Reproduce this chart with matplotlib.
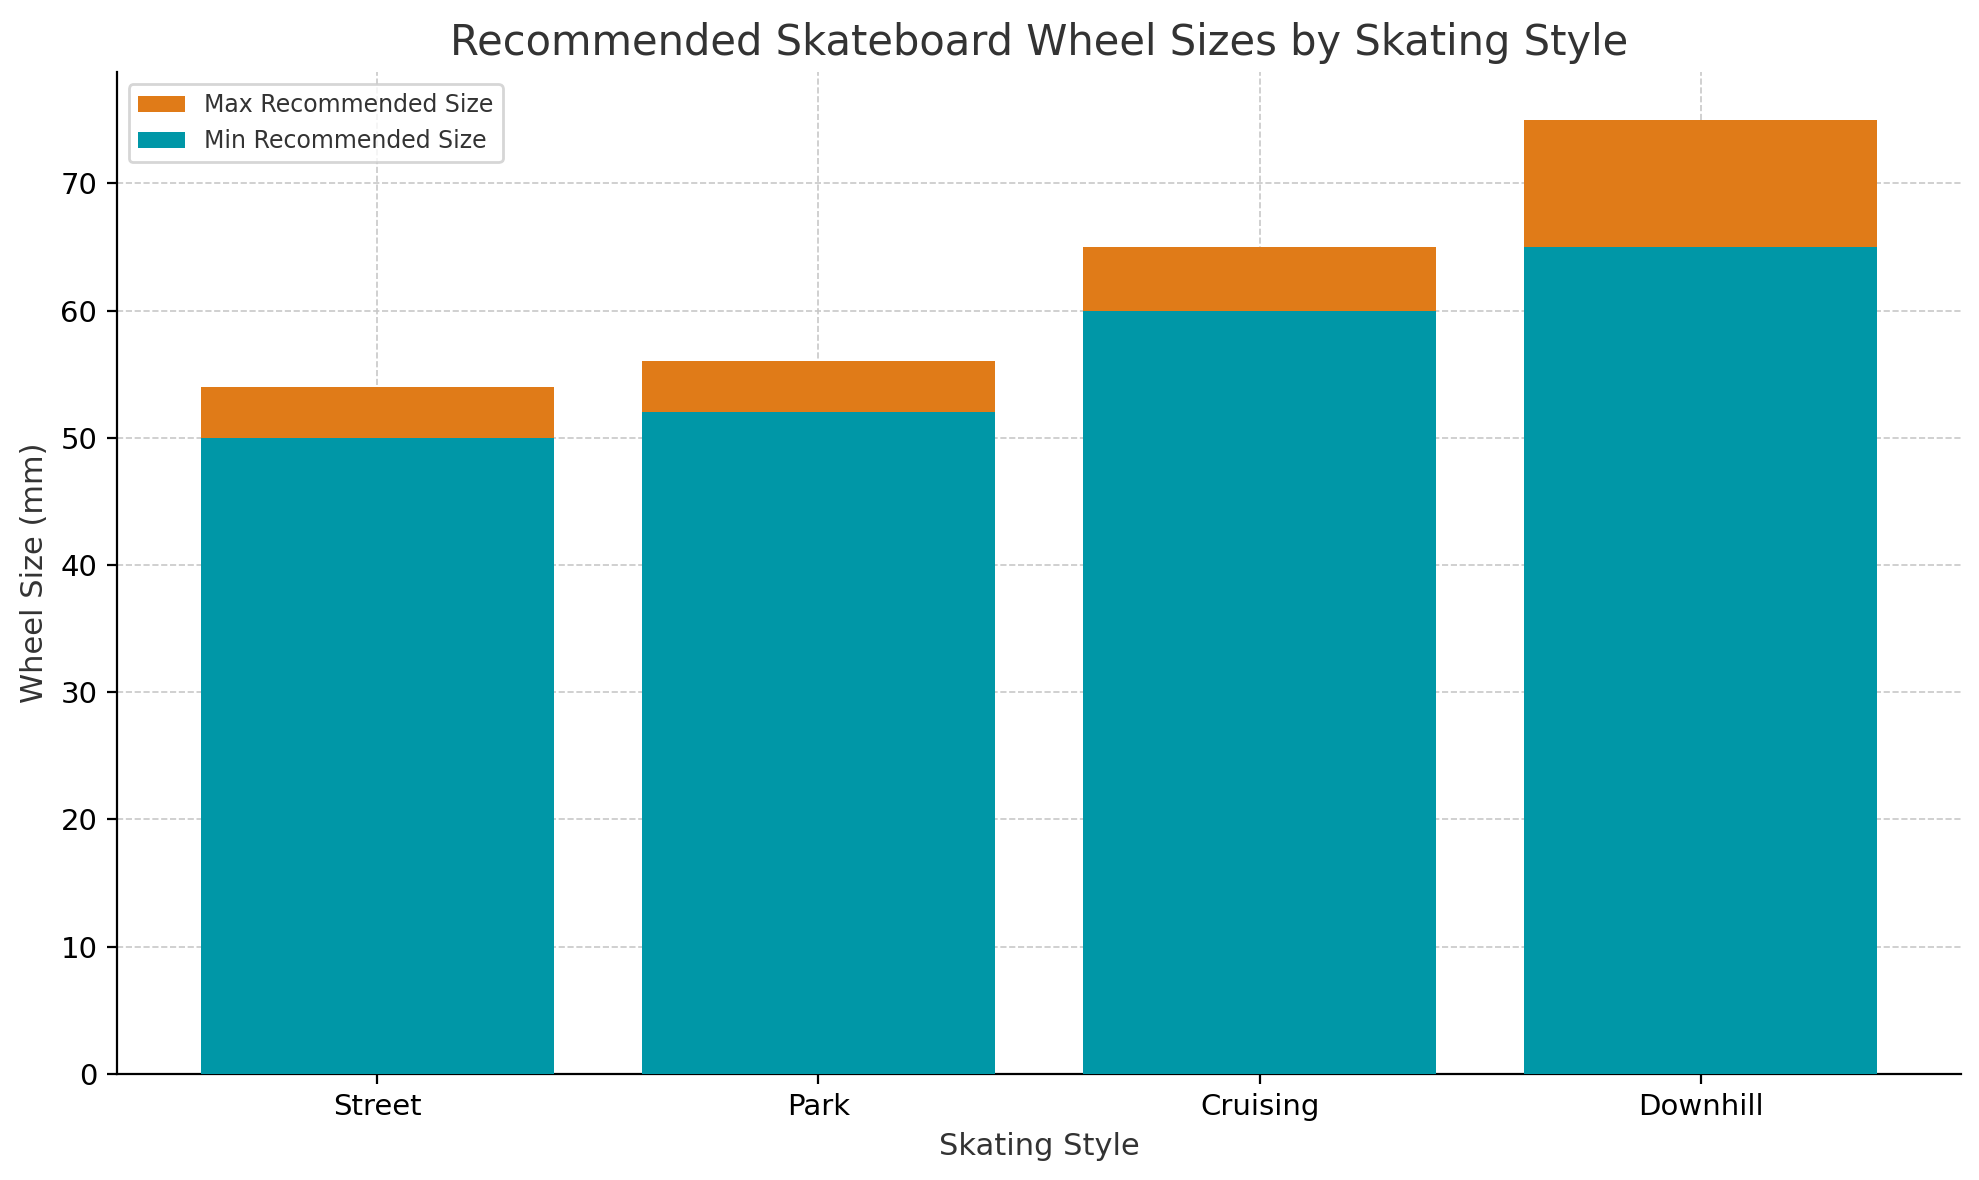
import matplotlib
matplotlib.use("Agg")
import matplotlib.pyplot as plt

styles = ["Street", "Park", "Cruising", "Downhill"]
min_size = [50, 52, 60, 65]
max_size = [54, 56, 65, 75]

fig = plt.figure(figsize=(9.895, 5.9), dpi=200)
ax = fig.add_axes([0.059, 0.09, 0.932, 0.849])
ax.bar(styles, max_size, color="#E07B18", label="Max Recommended Size", zorder=2)
ax.bar(styles, min_size, color="#0097A7", label="Min Recommended Size", zorder=3)
ax.grid(True, linestyle="--", color="#c8c8c8", linewidth=0.6, zorder=0)
ax.set_axisbelow(True)
for s in ["top", "right"]:
    ax.spines[s].set_visible(False)
ax.set_title("Recommended Skateboard Wheel Sizes by Skating Style", fontsize=15, color="#333333")
ax.set_xlabel("Skating Style", fontsize=11, color="#333333")
ax.set_ylabel("Wheel Size (mm)", fontsize=11, color="#333333")
ax.tick_params(labelsize=10.5)
ax.set_ylim(0, 78.75)
ax.legend(loc="upper left", fontsize=8.5, labelcolor="#333333")
fig.savefig("out.png", dpi=200)
